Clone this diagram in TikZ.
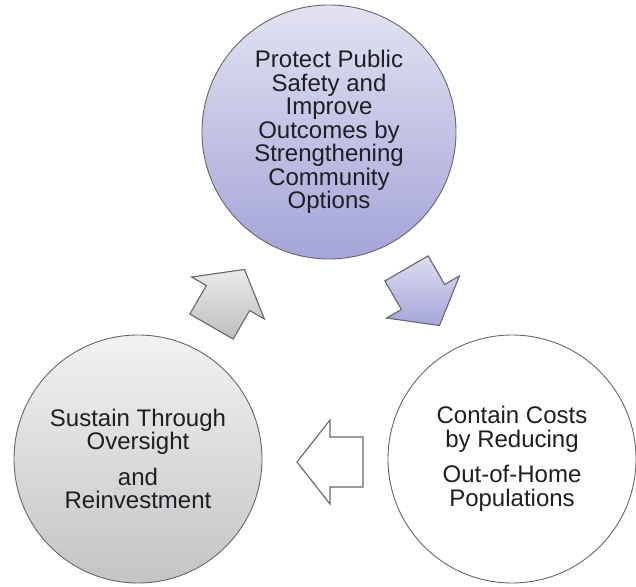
\documentclass[tikz,border=0pt]{standalone}
\usepackage{fontspec}
\setmainfont{Liberation Sans}
\definecolor{edgegrey}{HTML}{666666}
\definecolor{ink}{HTML}{1E1E24}
\definecolor{lavtop}{HTML}{E2E2F2}
\definecolor{lavbot}{HTML}{A4A4D8}
\definecolor{greytop}{HTML}{F2F2F2}
\definecolor{greybot}{HTML}{C4C4C4}
\definecolor{arrgreytop}{HTML}{EAEAEA}
\definecolor{arrgreybot}{HTML}{BEBEBE}
\definecolor{arrlavtop}{HTML}{DCDCF2}
\definecolor{arrlavbot}{HTML}{A6A6DA}
\tikzset{
  stage/.style={circle, draw=edgegrey, line width=0.9pt, inner sep=0pt,
    align=center, text=ink, font=\fontsize{24}{23.5}\selectfont},
  pics/cyclearrow/.style 2 args={code={
    \draw[draw=edgegrey, line width=1.1pt, line join=miter, top color=#1, bottom color=#2]
      (33,0) -- (0,-42) -- (0,-25) -- (-33,-25) -- (-33,25) -- (0,25) -- (0,42) -- cycle;
  }}
}
\begin{document}
\begin{tikzpicture}[x=1pt,y=-1pt]
  \useasboundingbox (0,0) rectangle (636,586);
  % the three stages of the cycle
  \node[stage, minimum size=254pt, top color=lavtop, bottom color=lavbot] (safety) at (329,132)
    {Protect Public\\Safety and\\Improve\\Outcomes by\\Strengthening\\Community\\Options};
  \node[stage, minimum size=248pt, fill=white] (costs) at (512,459)
    {Contain Costs\\by Reducing\\[12pt]Out-of-Home\\Populations};
  \node[stage, minimum size=248pt, top color=greytop, bottom color=greybot] (sustain) at (138,459)
    {Sustain Through\\Oversight\\[12pt]and\\Reinvestment};
  % block arrows leading from one stage to the next
  \pic[rotate=-60] (toCosts) at (423,297) {cyclearrow={arrlavtop}{arrlavbot}};
  \pic[rotate=180] (toSustain) at (330,462) {cyclearrow={white}{white}};
  \pic[rotate=60] (toSafety) at (228,298) {cyclearrow={arrgreytop}{arrgreybot}};
\end{tikzpicture}
\end{document}
